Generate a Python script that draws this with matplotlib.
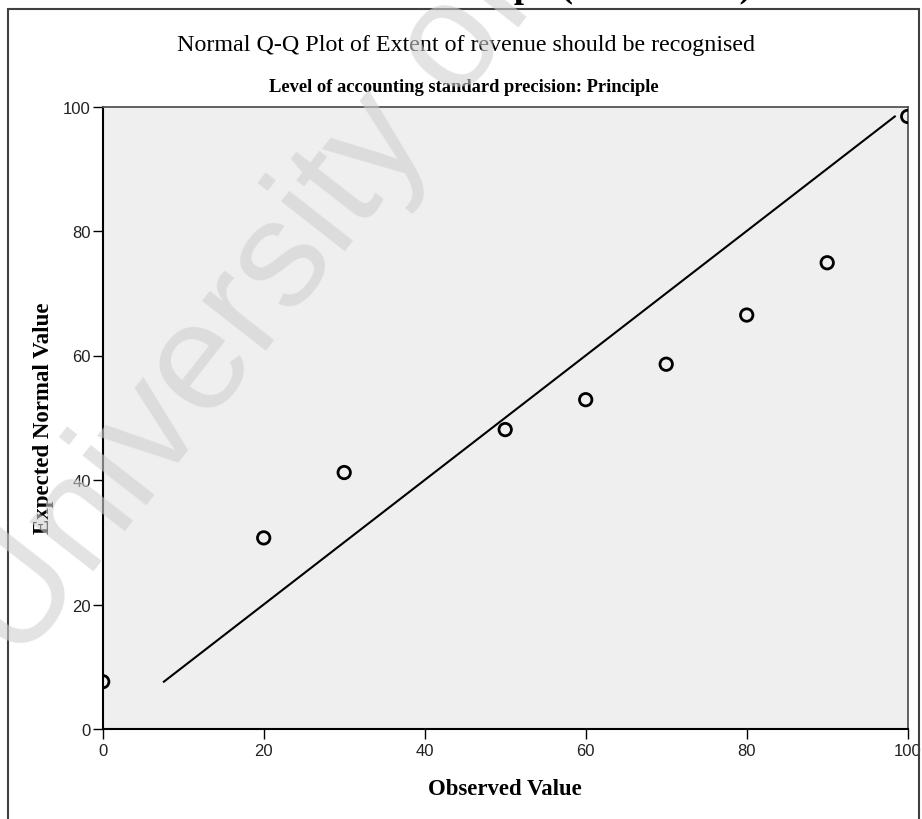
import matplotlib
matplotlib.use("Agg")
import matplotlib.pyplot as plt
from matplotlib.patches import Rectangle
from matplotlib import font_manager

# data
observed = [0, 20, 30, 50, 60, 70, 80, 90, 100]
expected = [7.6, 30.7, 41.2, 48.1, 52.9, 58.6, 66.5, 74.9, 98.4]
ref_line = [7.6, 98.4]
ticks = [0, 20, 40, 60, 80, 100]

title = "Normal Q-Q Plot of Extent of revenue should be recognised"
subtitle = "Level of accounting standard precision: Principle"
xlabel = "Observed Value"
ylabel = "Expected Normal Value"
page_heading = "Rules-Based Group   (Section 4.3)"
watermark = "University of Cape Town"

names = {f.name for f in font_manager.fontManager.ttflist}
tick_font = "Liberation Sans Narrow" if "Liberation Sans Narrow" in names else "Liberation Sans"
serif = "Liberation Serif"

W, H = 922, 820
fig = plt.figure(figsize=(W / 100, H / 100), dpi=100)
fig.patch.set_facecolor("white")


def fx(px):
    return px / W


def fy(py):
    return 1 - py / H


ax = fig.add_axes([fx(102.7), fy(730), fx(907.7) - fx(102.7), fy(107.5) - fy(730)])
ax.set_facecolor("#efefef")

ax.plot(ref_line, ref_line, color="black", lw=1.5, zorder=2)
ax.scatter(observed, expected, s=80, facecolors="none", edgecolors="black",
           linewidths=2, zorder=3)

ax.set_xlim(0, 100)
ax.set_ylim(0, 100)
ax.set_xticks(ticks)
ax.set_yticks(ticks)
ax.tick_params(direction="out", length=7, width=1, labelsize=12, color="black")
ax.tick_params(axis="y", pad=1.5)
ax.tick_params(axis="x", pad=3)
for lab in ax.get_xticklabels() + ax.get_yticklabels():
    lab.set_fontfamily(tick_font)
    lab.set_color("#222222")

for side in ["left", "bottom"]:
    ax.spines[side].set_color("black")
    ax.spines[side].set_linewidth(1.5)
for side in ["top", "right"]:
    ax.spines[side].set_color("#555555")
    ax.spines[side].set_linewidth(1.3)

ax.set_xlabel(xlabel, family=serif, fontweight="bold", fontsize=16.4)
ax.set_ylabel(ylabel, family=serif, fontweight="bold", fontsize=16.5)
ax.xaxis.set_label_coords(0.5, (730 - 790) / 622.5)
ax.yaxis.set_label_coords((44 - 102.7) / 805, 0.5)
ax.xaxis.label.set_va("center")
ax.yaxis.label.set_va("center")

fig.text(fx(466), fy(45), title, family=serif, fontsize=17.3, ha="center", va="center")
fig.text(fx(464), fy(87), subtitle, family=serif, fontweight="bold", fontsize=13.3,
         ha="center", va="center")

# page frame and the clipped heading above it
fig.add_artist(Rectangle((fx(8), -0.05), fx(919) - fx(8), fy(10) + 0.05,
                         transform=fig.transFigure, fill=False,
                         edgecolor="#404040", lw=1.5))
fig.text(fx(752), fy(-3.5), page_heading, family=serif, fontweight="bold", fontsize=26,
         ha="right", va="baseline")

# faint diagonal watermark
fig.text(fx(20), fy(666), watermark, family="Liberation Sans", fontsize=110,
         color="#d0d0d0", alpha=0.6, rotation=52, rotation_mode="anchor",
         ha="left", va="baseline", zorder=10)

fig.savefig("out.png", dpi=100)
